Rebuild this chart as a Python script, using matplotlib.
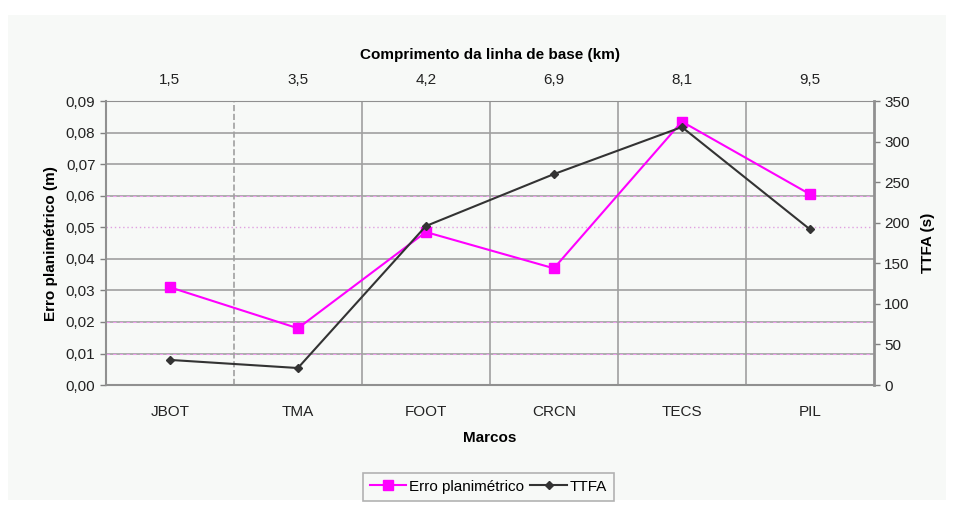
import matplotlib
matplotlib.use("Agg")
import matplotlib.pyplot as plt
from matplotlib.ticker import FuncFormatter
from matplotlib.patches import Rectangle

plt.rcParams['font.family'] = ['Liberation Sans', 'DejaVu Sans']

# data
marcos = ['JBOT', 'TMA', 'FOOT', 'CRCN', 'TECS', 'PIL']
comprimento = ['1,5', '3,5', '4,2', '6,9', '8,1', '9,5']
erro = [0.031, 0.018, 0.0485, 0.037, 0.0835, 0.0605]
ttfa = [31, 21, 196, 260, 318, 192]

fig = plt.figure(figsize=(9.54, 5.08), dpi=100)
fig.patch.set_facecolor('white')
fig.patches.append(Rectangle((0.008, 0.015), 0.984, 0.955, transform=fig.transFigure,
                             facecolor='#f7f9f7', edgecolor='none', zorder=-10))

ax = fig.add_axes([0.111, 0.242, 0.805, 0.559])
ax.set_facecolor('#f7f9f7')
x = list(range(len(marcos)))

# grid (some lines carry a pink dashed overlay, as in the original)
for v in [0.01, 0.02, 0.03, 0.04, 0.05, 0.06, 0.07, 0.08, 0.09]:
    if v == 0.05:
        ax.axhline(v, color='#e0a0e0', lw=1.0, ls=(0, (1, 2)), zorder=1)
    else:
        ax.axhline(v, color='#a0a0a0', lw=1.2, zorder=1)
        if v in (0.01, 0.02, 0.06):
            ax.axhline(v, color='#f0a0f0', lw=0.8, ls=(0, (3, 3)), zorder=1)
for b in [0.5, 1.5, 2.5, 3.5, 4.5]:
    ls = '--' if b == 0.5 else '-'
    ax.axvline(b, color='#a0a0a0', lw=1.2, ls=ls, zorder=1)

l1, = ax.plot(x, erro, color='#ff00ff', marker='s', ms=7, lw=1.5, zorder=3,
              label='Erro planimétrico')
ax.set_xlim(-0.5, 5.5)
ax.set_ylim(0, 0.09)
ax.set_yticks([i / 100 for i in range(10)])
ax.yaxis.set_major_formatter(FuncFormatter(lambda v, p: f'{v:.2f}'.replace('.', ',')))
ax.set_xticks(x)
ax.set_xticklabels(marcos)
ax.tick_params(axis='x', length=0, pad=14, labelsize=11, colors='#222222')
ax.tick_params(axis='y', length=4, width=1, color='#808080', labelsize=11, colors='#222222')
ax.set_xlabel('Marcos', fontsize=11, fontweight='bold', labelpad=9)
ax.set_ylabel('Erro planimétrico (m)', fontsize=11, fontweight='bold', labelpad=6)
for s in ['left', 'bottom']:
    ax.spines[s].set_color('#909090')
    ax.spines[s].set_linewidth(1.5)
ax.spines['top'].set_color('#909090')
ax.spines['top'].set_linestyle((0, (1, 1)))
ax.spines['right'].set_visible(False)

ax2 = ax.twinx()
l2, = ax2.plot(x, ttfa, color='#333333', marker='D', ms=4.5, lw=1.5, zorder=4, label='TTFA')
ax2.set_ylim(0, 350)
ax2.set_yticks(range(0, 351, 50))
ax2.tick_params(axis='y', length=4, width=1, color='#808080', labelsize=11, colors='#222222')
ax2.set_ylabel('TTFA (s)', fontsize=11, fontweight='bold', labelpad=8)
ax2.spines['right'].set_color('#909090')
ax2.spines['right'].set_linewidth(2)
for s in ['left', 'top', 'bottom']:
    ax2.spines[s].set_visible(False)

top = ax.secondary_xaxis('top')
top.set_xticks(x)
top.set_xticklabels(comprimento)
top.tick_params(length=0, pad=10, labelsize=11, colors='#222222')
top.set_xlabel('Comprimento da linha de base (km)', fontsize=11, fontweight='bold', labelpad=10)
top.spines['top'].set_visible(False)

leg = fig.legend([l1, l2], ['Erro planimétrico', 'TTFA'], loc='center', ncol=2,
                 bbox_to_anchor=(0.512, 0.042), fontsize=11, frameon=True,
                 fancybox=False, edgecolor='#a0a0a0', handlelength=2.4,
                 handletextpad=0.2, columnspacing=0.4, borderpad=0.45)
leg.get_frame().set_facecolor('#f7f9f7')
leg.get_frame().set_linewidth(1.2)

fig.savefig('out.png', dpi=100)
